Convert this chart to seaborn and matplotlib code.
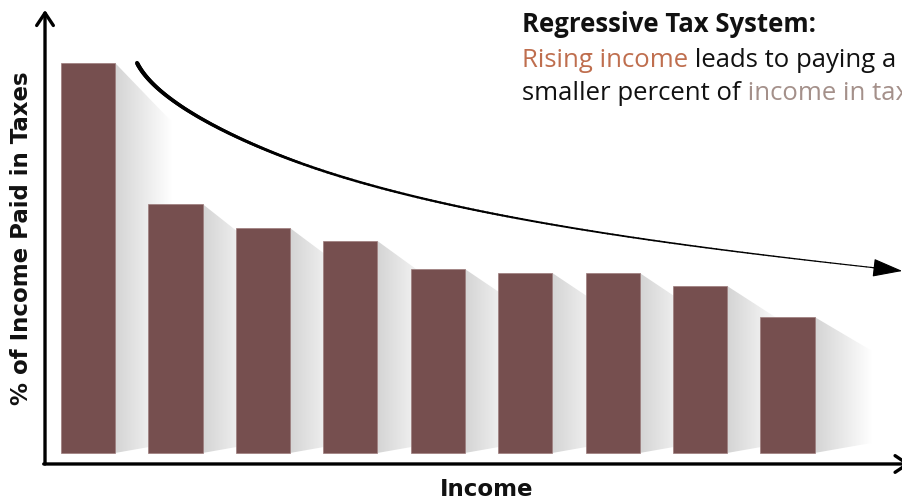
import numpy as np
import pandas as pd
import matplotlib
matplotlib.use("Agg")
import matplotlib.pyplot as plt
import seaborn as sns
from matplotlib.patches import Polygon
from matplotlib.collections import LineCollection
from matplotlib.colors import LinearSegmentedColormap

# data: share of income paid in taxes for rising income groups
brackets = ["B1", "B2", "B3", "B4", "B5", "B6", "B7", "B8", "B9"]
tax_share = [39.0, 24.9, 22.5, 21.2, 18.4, 18.0, 18.0, 16.7, 13.6]

bar_color = "#764F4F"
rise_color = "#BF6E4E"
tax_color = "#A4908A"

df = pd.DataFrame({"bracket": brackets, "share": tax_share})

sns.set_theme(style="white")
plt.rcParams["font.family"] = ["Open Sans", "DejaVu Sans"]

fig = plt.figure(figsize=(9.02, 5.04), dpi=100)
ax = fig.add_axes([0.0499, 0.0794, 0.9501, 0.9008])

sns.barplot(data=df, x="bracket", y="share", color=bar_color, saturation=1,
            width=0.62, edgecolor="#9C7C7C", linewidth=0.5, ax=ax, zorder=3)

# soft shadow behind each bar
shade = LinearSegmentedColormap.from_list("shade", ["#D4D4D4", "#FFFFFF"])
grad = np.linspace(0, 1, 256).reshape(1, -1)
for p in ax.patches:
    xr = p.get_x() + p.get_width()
    h = p.get_height()
    w = 0.65
    drop = 2 + 0.1 * h
    poly = Polygon([(xr, h), (xr + w, h - drop), (xr + w, 1.0), (xr, 0)],
                   closed=True, facecolor="none", edgecolor="none")
    ax.add_patch(poly)
    im = ax.imshow(grad, extent=(xr, xr + w, 0, h), cmap=shade, aspect="auto",
                   zorder=1, interpolation="bilinear")
    im.set_clip_path(poly)

ax.set_xlim(-0.492, 9.31)
ax.set_ylim(-1.1, 44.3)
ax.set_xticks([])
ax.set_yticks([])
ax.set_xlabel("")
ax.set_ylabel("")
for s in ax.spines.values():
    s.set_visible(False)

# axis arrows
ax.annotate("", xy=(0, 1.0), xytext=(0, 0), xycoords="axes fraction",
            arrowprops=dict(arrowstyle="->,head_length=0.45,head_width=0.3",
                            lw=2.4, color="black", shrinkA=0, shrinkB=0,
                            mutation_scale=20), annotation_clip=False)
ax.annotate("", xy=(1.01, 0), xytext=(-0.0015, 0), xycoords="axes fraction",
            arrowprops=dict(arrowstyle="->,head_length=0.45,head_width=0.3",
                            lw=2.4, color="black", shrinkA=0, shrinkB=0,
                            mutation_scale=20), annotation_clip=False)

# tapered trend arrow (two cubic bezier pieces)
def bezier(p0, p1, p2, p3, n=120):
    t = np.linspace(0, 1, n)[:, None]
    p0, p1, p2, p3 = map(np.array, (p0, p1, p2, p3))
    return ((1 - t) ** 3) * p0 + 3 * ((1 - t) ** 2) * t * p1 + 3 * (1 - t) * t ** 2 * p2 + t ** 3 * p3

seg1 = bezier((0.561, 39.0), (0.789, 35.0), (1.739, 31.16), (2.426, 29.0))
seg2 = bezier((2.426, 29.0), (4.142, 23.6), (6.728, 20.7), (9.016, 18.5))
pts = np.vstack([seg1, seg2[1:]])
segs = np.stack([pts[:-1], pts[1:]], axis=1)
lws = np.linspace(3.0, 0.8, len(segs))
lc = LineCollection(segs, linewidths=lws, colors="black", capstyle="round",
                    zorder=5, clip_on=False)
ax.add_collection(lc)
ax.annotate("", xy=(9.314, 18.2), xytext=(8.95, 18.56), xycoords="data",
            arrowprops=dict(arrowstyle="-|>,head_length=1.9,head_width=0.58",
                            color="black", lw=0.8, shrinkA=0, shrinkB=0,
                            mutation_scale=10), annotation_clip=False)

# axis titles
lab_font = ["DejaVu Sans"]
fig.text(22 / 902, 1 - 238 / 504, "% of Income Paid in Taxes", rotation=90,
         ha="center", va="center", fontsize=16.5, fontweight="bold",
         color="#111111", family=lab_font)
fig.text(487 / 902, 1 - 490 / 504, "Income", ha="center", va="center",
         fontsize=16.5, fontweight="bold", color="#111111", family=lab_font)

# annotation text
fs = 18.5
fig.text(522 / 902, 1 - 32 / 504, "Regressive Tax System:", fontsize=fs,
         fontweight="bold", color="#111111", va="baseline")
t2 = fig.text(522 / 902, 1 - 67 / 504, "Rising income", fontsize=fs,
              color=rise_color, va="baseline")
fig.add_artist(plt.Annotation(" leads to paying a", xy=(1, 0), xycoords=t2,
                              va="bottom", fontsize=fs, color="#111111"))
t3 = fig.text(522 / 902, 1 - 100 / 504, "smaller percent of", fontsize=fs,
              color="#111111", va="baseline")
fig.add_artist(plt.Annotation(" income in taxes.", xy=(1, 0), xycoords=t3,
                              va="bottom", fontsize=fs, color=tax_color))

fig.savefig("out.png", dpi=100)
